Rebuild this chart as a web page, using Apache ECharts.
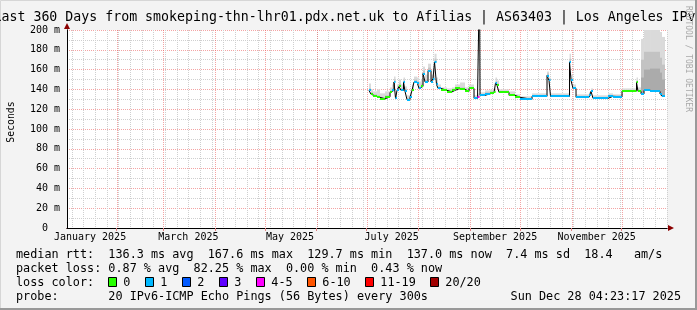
<!DOCTYPE html>
<html><head><meta charset="utf-8">
<script src="https://cdn.jsdelivr.net/npm/echarts@6/dist/echarts.min.js"></script>
<style>html,body{margin:0;padding:0;background:#f3f3f3}#c{width:697px;height:310px}</style>
</head><body><div id="c"></div>
<script>
// ---------------- data ----------------
const titleText = 'Last 360 Days from smokeping-thn-lhr01.pdx.net.uk to Afilias | AS63403 | Los Angeles IPv6';
const graphEndUTC = [2025, 11, 28, 4, 23, 17];
const spanDays = 360;
const monthStarts = ['2025-02-01','2025-03-01','2025-04-01','2025-05-01','2025-06-01','2025-07-01','2025-08-01','2025-09-01','2025-10-01','2025-11-01','2025-12-01'];
const monthLabelDates = ['2025-01-16','2025-03-16','2025-05-16','2025-07-16','2025-09-16','2025-11-16'];
const monthLabels = ['January 2025','March 2025','May 2025','July 2025','September 2025','November 2025'];
const firstSunday = '2025-01-05';

// sample start, day of year 2025 (0 = Jan 1 00:00)
const sampleDay = [182.4,183.6,184.8,187.2,189.0,192.0,195.0,196.2,197.4,198.3,199.2,200.4,201.6,203.1,204.0,205.2,207.0,208.2,209.4,211.2,212.4,213.6,214.8,216.0,217.8,219.6,220.8,221.7,222.9,223.8,225.6,229.2,232.2,234.0,237.0,240.0,242.4,245.4,247.5,248.7,249.0,252.0,255.0,257.4,258.3,259.2,260.4,264.0,266.4,270.0,273.0,280.2,289.2,290.4,291.3,302.7,303.6,304.8,306.6,314.4,315.6,316.8,325.8,328.8,334.2,342.9,343.8,345.6,347.4,351.0,357.0,358.2];
const dataEndDay = 360.0;
const medianMs = [139,135,133,132,130.5,132.5,137,139,147.5,131,139,143,139,147.5,138,129.6,132,139,147.5,146,141,143,156,147.5,159,147.5,151,167.6,145,141,139,137.5,139,141,140,138,141,131,132,260,134,135.5,136.5,137.5,146.5,144,137,137,134,132,130,133,154,149,133,167.6,149,141,132,134,138,131,133,132.5,138.5,147,138,135.5,139,138,135.5,133];
const lostPings = [1,0,0,0,0,0,0,1,1,1,1,0,1,1,1,1,1,0,1,1,1,0,1,1,1,1,1,1,1,1,0,0,0,0,0,0,0,1,4,12,1,1,0,0,1,0,0,0,0,0,1,1,1,1,1,1,1,1,1,1,1,1,1,1,0,0,0,1,1,1,1,1];
const smokeTopMs = [146,140,138,140,136,138,142,145,153,136,145,150,145,152,143,134,137,145,153,152,148,150,163,155,166,155,160,176,152,145,142,141,142,145,147,142,145,134,136,260,137,139,140,141,152,149,140,140,138,135,133,136,158,152,136,176,155,145,135,137,141,134,136,135,141,152,142,191,203,205,198,193];
const smokeMidMs = [141,137,135,134,132,134,139,141,150,133,141,146,141,149,140,131,134,141,150,148,143,146,159,150,162,150,154,171,147,142,140,139,140,142,142,139,142,132,134,260,135,137,138,139,148,146,138,138,135,133,131,134,156,150,134,171,151,142,133,135,139,132,134,134,139,149,139,170,178,178,172,165];
// darkest smoke core, only for the last samples
const coreFirstSample = 67;
const smokeCoreMs = [152,160,161,157,150];

const lossLabels = ['0','1','2','3','4-5','6-10','11-19','20/20'];
const lossColors = ['#26ff00','#00b8ff','#0059ff','#5e00ff','#ff00ff','#ff5500','#ff0000','#a10000'];
const statsRtt = 'median rtt:  136.3 ms avg  167.6 ms max  129.7 ms min  137.0 ms now  7.4 ms sd  18.4   am/s';
const statsLoss = 'packet loss: 0.87 % avg  82.25 % max  0.00 % min  0.43 % now';
const lossColorTitle = 'loss color:';
const probeText = 'probe:       20 IPv6-ICMP Echo Pings (56 Bytes) every 300s';
const stampText = 'Sun Dec 28 04:23:17 2025';
const watermark = 'RRDTOOL / TOBI OETIKER';

// ---------------- build ----------------
const DAY = 86400000;
const T0 = Date.UTC(2025, 0, 1);
const graphEnd = Date.UTC.apply(null, graphEndUTC);
const graphStart = graphEnd - spanDays * DAY;
const dayT = d => T0 + d * DAY;
const dateT = s => { const p = s.split('-').map(Number); return Date.UTC(p[0], p[1]-1, p[2]); };
const bucket = l => l === 0 ? 0 : l === 1 ? 1 : l === 2 ? 2 : l === 3 ? 3 : l <= 5 ? 4 : l <= 10 ? 5 : l <= 19 ? 6 : 7;

const labelTimes = monthLabelDates.map(dateT);
const gridItems = [];
for (let t = dateT(firstSunday); t <= graphEnd; t += 7 * DAY) gridItems.push([t, 0]);
const monthLines = monthStarts.map(dateT);
monthLines.forEach(t => gridItems.push([t, 1]));
const MAJOR = 'rgba(235,90,90,0.55)', MINOR = '#cfcfcf';

const segs = sampleDay.map((d, i) => [dayT(d), dayT(i + 1 < sampleDay.length ? sampleDay[i+1] : dataEndDay), medianMs[i], lostPings[i]]);
const smokeItems = [];
segs.forEach((s, i) => smokeItems.push([s[0], s[1], medianMs[i], smokeTopMs[i], 0]));
segs.forEach((s, i) => smokeItems.push([s[0], s[1], medianMs[i], smokeMidMs[i], 1]));
smokeCoreMs.forEach((v, k) => { const s = segs[coreFirstSample + k]; smokeItems.push([s[0], s[1], s[2], v, 2]); });
const smokeFill = ['#dadada', '#c3c3c3', '#ababab'];
const lineData = segs.map(s => [s[0], s[2]]);
lineData.push([dayT(dataEndDay), medianMs[medianMs.length - 1]]);

const FONT = 'DejaVu Sans Mono';
const chart = echarts.init(document.getElementById('c'), null, {renderer: 'canvas'});

function clipRect(r, cs) {
  return echarts.graphic.clipRectByRect(r, {x: cs.x, y: cs.y, width: cs.width, height: cs.height});
}

const graphics = [];
graphics.push({type: 'text', silent: true, style: {text: titleText, x: 348.5, y: 18, align: 'center', verticalAlign: 'middle', font: '13.25px "' + FONT + '"', fill: '#000'}});
graphics.push({type: 'text', silent: true, rotation: Math.PI / 2, x: 11, y: 122, style: {text: 'Seconds', x: 0, y: 0, align: 'center', verticalAlign: 'middle', font: '9.8px "' + FONT + '"', fill: '#000'}});
graphics.push({type: 'text', silent: true, rotation: -Math.PI / 2, x: 688, y: 59, style: {text: watermark, x: 0, y: 0, align: 'center', verticalAlign: 'middle', font: '8px "' + FONT + '"', fill: '#a8a8a8'}});
const FF = '11.8px "' + FONT + '"';
graphics.push({type: 'text', silent: true, style: {text: statsRtt, x: 16, y: 254.5, verticalAlign: 'middle', font: FF, fill: '#000'}});
graphics.push({type: 'text', silent: true, style: {text: statsLoss, x: 16, y: 268.5, verticalAlign: 'middle', font: FF, fill: '#000'}});
graphics.push({type: 'text', silent: true, style: {text: lossColorTitle, x: 16, y: 282.5, verticalAlign: 'middle', font: FF, fill: '#000'}});
let lx = 108.3;
lossLabels.forEach((lab, i) => {
  graphics.push({type: 'rect', silent: true, shape: {x: Math.round(lx) + 0.5, y: 277.5, width: 8, height: 9}, style: {fill: lossColors[i], stroke: '#000', lineWidth: 1}});
  graphics.push({type: 'text', silent: true, style: {text: lab, x: lx + 15, y: 282.5, verticalAlign: 'middle', font: FF, fill: '#000'}});
  lx = lx + 15 + lab.length * 7 + 15;
});
graphics.push({type: 'text', silent: true, style: {text: probeText, x: 16, y: 296.5, verticalAlign: 'middle', font: FF, fill: '#000'}});
graphics.push({type: 'text', silent: true, style: {text: stampText, x: 681, y: 296.5, align: 'right', verticalAlign: 'middle', font: FF, fill: '#000'}});
// frame
graphics.push({type: 'rect', silent: true, z: -1, shape: {x: 0.5, y: 0.5, width: 695, height: 308}, style: {fill: null, stroke: '#d6d6d6', lineWidth: 1}});
graphics.push({type: 'polyline', silent: true, shape: {points: [[696, 0], [696, 309], [0, 309]]}, style: {stroke: '#999', lineWidth: 2, fill: null}});

const axisFont = {fontFamily: FONT, fontSize: 10, color: '#000'};

const option = {
  animation: false,
  backgroundColor: '#f3f3f3',
  grid: {left: 67, right: 30, top: 30, bottom: 82, show: true, backgroundColor: '#ffffff', borderWidth: 0},
  xAxis: [{
    type: 'value', min: graphStart, max: graphEnd, z: 1,
    axisLine: {show: true, onZero: false, lineStyle: {color: '#000', width: 1}},
    axisTick: {show: true, customValues: monthLines, length: 3, inside: false, lineStyle: {color: '#e08080'}},
    splitLine: {show: false},
    axisLabel: Object.assign({customValues: labelTimes, margin: 4, formatter: v => monthLabels[labelTimes.indexOf(v)] || ''}, axisFont)
  }, {
    type: 'value', min: graphStart, max: graphEnd, z: 0, position: 'bottom',
    axisLine: {show: true, onZero: false, lineStyle: {color: '#8b0000', width: 1}, symbol: ['none', 'triangle'], symbolSize: [6, 6], symbolOffset: [0, 4]},
    axisTick: {show: false}, axisLabel: {show: false}, splitLine: {show: false}
  }],
  yAxis: [{
    type: 'value', min: 0, max: 200, interval: 20, z: 1,
    axisLine: {show: true, lineStyle: {color: '#000', width: 1}},
    axisTick: {show: false},
    axisLabel: Object.assign({margin: 7, formatter: v => v === 0 ? '0  ' : v + ' m'}, axisFont),
    splitLine: {show: true, lineStyle: {color: MAJOR, type: [1, 1], width: 1}},
    minorTick: {show: false, splitNumber: 2},
    minorSplitLine: {show: true, lineStyle: {color: MINOR, type: [1, 1], width: 1}}
  }, {
    type: 'value', min: 0, max: 200, interval: 20, z: 0, position: 'left',
    axisLine: {show: true, lineStyle: {color: '#8b0000', width: 1}, symbol: ['none', 'triangle'], symbolSize: [6, 6], symbolOffset: [0, 4]},
    axisTick: {show: false}, axisLabel: {show: false}, splitLine: {show: false}
  }],
  graphic: graphics,
  series: [
    {
      type: 'custom', name: 'vgrid', z: 1, silent: true,
      data: gridItems, encode: {x: 0},
      renderItem: (params, api) => {
        const g = gridItems[params.dataIndex];
        const top = api.coord([g[0], 200]), bot = api.coord([g[0], 0]);
        const x = Math.round(top[0]) + 0.5;
        return {type: 'line', shape: {x1: x, y1: top[1], x2: x, y2: bot[1]}, style: {stroke: g[1] ? MAJOR : MINOR, lineWidth: 1, lineDash: [1, 1]}};
      }
    },
    {
      type: 'custom', name: 'smoke', z: 2, silent: true,
      data: smokeItems,
      encode: {x: [0, 1], y: [2, 3]},
      renderItem: (params, api) => {
        const it = smokeItems[params.dataIndex];
        const a = api.coord([it[0], it[3]]), b = api.coord([it[1], it[2]]);
        const sh = clipRect({x: a[0], y: a[1], width: b[0] - a[0], height: b[1] - a[1]}, params.coordSys);
        return sh && {type: 'rect', shape: sh, style: {fill: smokeFill[it[4]]}};
      }
    },
    {
      type: 'line', name: 'median', data: lineData, step: 'end', z: 3, silent: true,
      symbol: 'none', clip: true, lineStyle: {color: '#000', width: 1}
    },
    {
      type: 'custom', name: 'loss', z: 4, silent: true,
      data: segs,
      encode: {x: [0, 1], y: 2},
      renderItem: (params, api) => {
        const s = segs[params.dataIndex];
        if (s[2] > 200) return null;
        const a = api.coord([s[0], s[2]]), b = api.coord([s[1], s[2]]);
        const y = Math.round(a[1]);
        return {type: 'line', shape: {x1: a[0], y1: y, x2: b[0], y2: y}, style: {stroke: lossColors[bucket(s[3])], lineWidth: 2}};
      }
    }
  ]
};
chart.setOption(option);
</script></body></html>
